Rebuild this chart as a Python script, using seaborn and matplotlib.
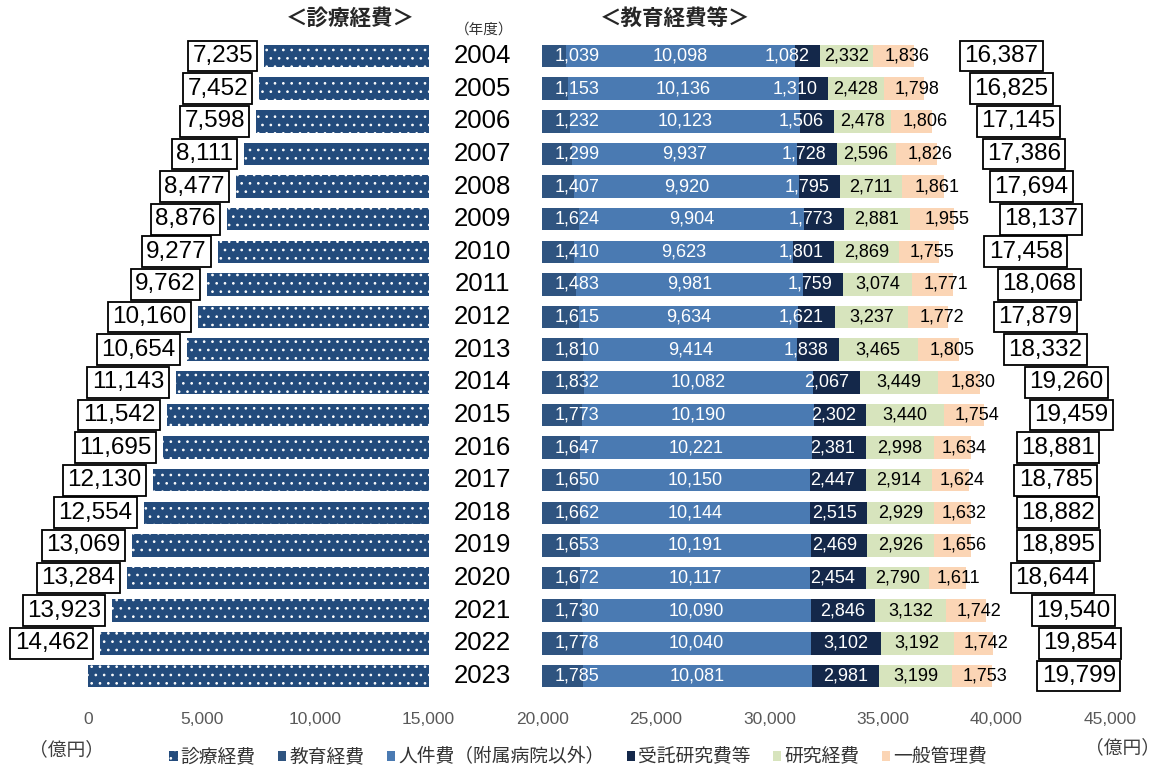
import matplotlib
matplotlib.use("Agg")
import matplotlib.pyplot as plt
import matplotlib.patches as mpatches
import numpy as np
import pandas as pd
import seaborn as sns

# ---------------- data ----------------
years = [str(y) for y in range(2004, 2024)]
shinryo = [7235, 7452, 7598, 8111, 8477, 8876, 9277, 9762, 10160, 10654,
           11143, 11542, 11695, 12130, 12554, 13069, 13284, 13923, 14462, 15000]
shinryo_labeled = [True] * 19 + [False]
kyoiku = [1039, 1153, 1232, 1299, 1407, 1624, 1410, 1483, 1615, 1810,
          1832, 1773, 1647, 1650, 1662, 1653, 1672, 1730, 1778, 1785]
jinken = [10098, 10136, 10123, 9937, 9920, 9904, 9623, 9981, 9634, 9414,
          10082, 10190, 10221, 10150, 10144, 10191, 10117, 10090, 10040, 10081]
jutaku = [1082, 1310, 1506, 1728, 1795, 1773, 1801, 1759, 1621, 1838,
          2067, 2302, 2381, 2447, 2515, 2469, 2454, 2846, 3102, 2981]
kenkyu = [2332, 2428, 2478, 2596, 2711, 2881, 2869, 3074, 3237, 3465,
          3449, 3440, 2998, 2914, 2929, 2926, 2790, 3132, 3192, 3199]
ippan = [1836, 1798, 1806, 1826, 1861, 1955, 1755, 1771, 1772, 1805,
         1830, 1754, 1634, 1624, 1632, 1656, 1611, 1742, 1742, 1753]
series_names = ["教育経費", "人件費（附属病院以外）", "受託研究費等", "研究経費", "一般管理費"]
xticks = list(range(0, 45001, 5000))

# ---------------- style ----------------
sns.set_theme(style="white")
plt.rcParams["font.family"] = ["Liberation Sans", "Noto Sans CJK JP", "DejaVu Sans"]
plt.rcParams["hatch.linewidth"] = 0.7

C_SHINRYO = "#234b7c"
colors = ["#2f5480", "#4a7ab2", "#14284a", "#d7e4bd", "#fbd5b5"]
txt_colors = ["white", "white", "white", "black", "black"]
CJK = ["Noto Sans CJK JP", "DejaVu Sans"]

LEFT_BASE = 15000
RIGHT_BASE = 20000
BAR_H = 0.69

fig = plt.figure(figsize=(11.63, 7.69), dpi=100)
ax = fig.add_axes([88 / 1163, 1 - 700 / 769, 1022 / 1163, (700 - 36) / 769])

# left bars: 診療経費 (drawn leftwards from 15,000)
df_left = pd.DataFrame({"year": years, "value": shinryo})
df_left["left"] = LEFT_BASE - df_left["value"]
sns.barplot(data=df_left, x="value", y="year", order=years, orient="h",
            color=C_SHINRYO, saturation=1, width=BAR_H, errorbar=None,
            left=df_left["left"].values, edgecolor="white", linewidth=0,
            hatch="..", ax=ax)

# right stacked bars
stack = np.array([kyoiku, jinken, jutaku, kenkyu, ippan], dtype=float)
starts = RIGHT_BASE + np.vstack([np.zeros(len(years)), np.cumsum(stack, axis=0)[:-1]])
for k in range(5):
    dfk = pd.DataFrame({"year": years, "value": stack[k]})
    sns.barplot(data=dfk, x="value", y="year", order=years, orient="h",
                color=colors[k], saturation=1, width=BAR_H, errorbar=None,
                left=starts[k], linewidth=0, ax=ax)

totals = stack.sum(axis=0)

# ---------------- labels ----------------
for i, y in enumerate(years):
    for k in range(5):
        s = starts[k, i]
        w = stack[k, i]
        e = s + w
        if k == 0:
            xc = s + 1530
        elif k == 2:
            xc = e - max(w / 2, 1450)
        elif k == 4:
            xc = e - 300
        else:
            xc = s + w / 2
        ax.text(xc, i, f"{int(w):,}", ha="center", va="center",
                fontsize=13, color=txt_colors[k])
    ax.text(RIGHT_BASE + totals[i] + 2200, i, f"{int(totals[i]):,}",
            ha="left", va="center", fontsize=17.5, color="black",
            bbox=dict(boxstyle="square,pad=0.18", fc="white", ec="black", lw=1.3))
    if shinryo_labeled[i]:
        ax.text(LEFT_BASE - shinryo[i] - 500, i, f"{shinryo[i]:,}",
                ha="right", va="center", fontsize=17.5, color="black",
                bbox=dict(boxstyle="square,pad=0.18", fc="white", ec="black", lw=1.3))
    ax.text(17350, i, y, ha="center", va="center", fontsize=18.5, color="black")

# ---------------- axes ----------------
ax.set_xlim(0, 45000)
ax.set_ylim(19.735, -0.613)
ax.set_xticks(xticks)
ax.set_xticklabels([f"{t:,}" for t in xticks],
                   family=["Liberation Sans Narrow", "Liberation Sans"],
                   fontsize=12.5, color="#595959")
ax.tick_params(axis="x", length=0, pad=9)
ax.set_yticks([])
ax.set_xlabel("")
ax.set_ylabel("")
for sp in ax.spines.values():
    sp.set_visible(False)

# ---------------- titles & units ----------------
fig.text(350 / 1163, 1 - 18 / 769, "＜診療経費＞", ha="center", va="center",
         fontsize=15.5, fontweight="bold", family=CJK)
fig.text(675 / 1163, 1 - 18 / 769, "＜教育経費等＞", ha="center", va="center",
         fontsize=15.5, fontweight="bold", family=CJK)
fig.text(484 / 1163, 1 - 30 / 769, "（年度）", ha="center", va="center",
         fontsize=10.5, family=CJK, color="#333333")
fig.text(66 / 1163, 1 - 750 / 769, "（億円）", ha="center", va="center",
         fontsize=13.5, family=CJK, color="#404040")
fig.text(1160 / 1163, 1 - 748 / 769, "（億円）", ha="right", va="center",
         fontsize=13.5, family=CJK, color="#404040")

# ---------------- legend ----------------
handles = [mpatches.Patch(facecolor=C_SHINRYO, edgecolor="white", hatch="..",
                          linewidth=0, label="診療経費")]
for k in range(5):
    handles.append(mpatches.Patch(facecolor=colors[k], edgecolor=colors[k],
                                  linewidth=0, label=series_names[k]))
leg = fig.legend(handles=handles, loc="center", ncol=6,
                 bbox_to_anchor=(578 / 1163, 1 - 757 / 769), frameon=False,
                 handlelength=0.45, handleheight=0.45, handletextpad=0.15,
                 columnspacing=1.2, prop={"family": CJK, "size": 13.5})
for t in leg.get_texts():
    t.set_color("#333333")

fig.savefig("out.png", dpi=100)
